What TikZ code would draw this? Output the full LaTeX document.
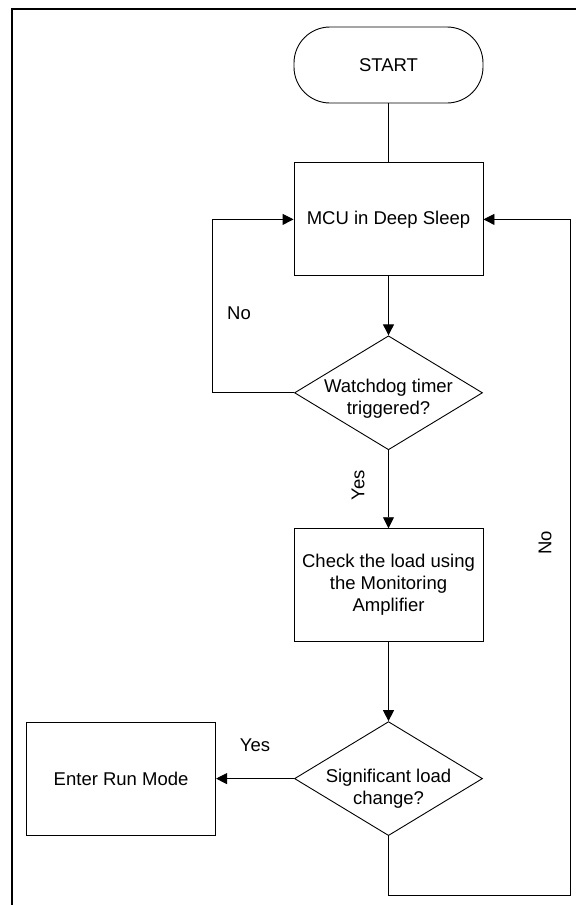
\documentclass[tikz,border=0pt]{standalone}
\usepackage{fontspec}
\setmainfont{Liberation Sans}
\usetikzlibrary{positioning,shapes.geometric,arrows.meta}
\tikzset{
  base/.style={draw, line width=0.9pt, font=\fontsize{18.5}{22}\selectfont, align=center, inner sep=0pt},
  terminal/.style={base, rounded corners=36pt, minimum width=189pt, minimum height=76pt},
  process/.style={base, minimum width=189pt, minimum height=113pt},
  decision/.style={base, diamond, minimum width=188pt, minimum height=114pt},
  flow/.style={line width=0.9pt, -{Triangle[length=11pt,width=11pt]}},
  tag/.style={font=\fontsize{18.5}{22}\selectfont, inner sep=0pt, align=center}
}

\begin{document}
\begin{tikzpicture}[x=1pt, y=-1pt]
  \useasboundingbox (0,0) rectangle (576,905);
  \draw[line width=2pt] (12,905) -- (12,9) -- (576,9);

  \node[terminal] (start) at (388.5,65) {START};
  \node[process, below=59pt of start] (mcu) {MCU in Deep Sleep};
  \node[decision, below=59pt of mcu,
        label={[tag, yshift=-6pt]center:Watchdog timer\\triggered?}] (wdt) {};
  \node[process, below=78pt of wdt] (check) {Check the load using\\the Monitoring\\Amplifier};
  \node[decision, below=79pt of check,
        label={[tag, yshift=-10pt]center:Significant load\\change?}] (load) {};
  \node[process, left=78pt of load] (run) {Enter Run Mode};

  \coordinate[left=82pt of wdt.west] (lloop);
  \coordinate[below=59pt of load.south] (rbottom);
  \coordinate (rloop) at (570.5,0);

  \node[tag] (wdtno) at (239,313) {No};
  \node[tag, rotate=90] (wdtyes) at (358,485) {Yes};
  \node[tag] (loadyes) at (255,745) {Yes};
  \node[tag, rotate=90] (loadno) at (545,543) {No};

  \draw[line width=0.9pt] (start) -- (mcu);
  \draw[flow] (mcu) -- (wdt);
  \draw[flow] (wdt) -- (check);
  \draw[flow] (check) -- (load);
  \draw[flow] (load) -- (run);
  \draw[flow] (wdt.west) -- (lloop) |- (mcu.west);
  \draw[flow] (load.south) -- (rbottom) -| (rloop |- mcu.east) -- (mcu.east);
\end{tikzpicture}
\end{document}
